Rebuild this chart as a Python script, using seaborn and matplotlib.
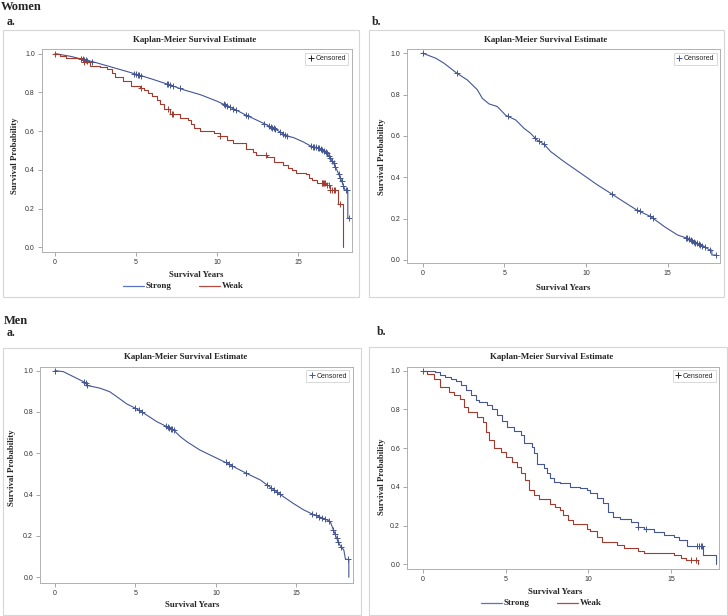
import numpy as np
import pandas as pd
import matplotlib
matplotlib.use("Agg")
import matplotlib.pyplot as plt
from matplotlib.patches import Rectangle
from matplotlib.lines import Line2D
import seaborn as sns

# ---- data ----
# Women a. (Strong / Weak)
wa_strong_t = [0, 1.0, 1.75, 2.37, 3.5, 5.04, 6.0, 7.1, 7.9, 9.0, 10.0, 11.0, 11.8, 12.9, 13.7,
               14.3, 14.7, 15.3, 15.8, 16.4, 16.8, 17.2, 17.5, 17.7, 17.9, 18.07, 18.07, 18.15]
wa_strong_s = [1.0, 0.985, 0.969, 0.957, 0.93, 0.893, 0.868, 0.838, 0.814, 0.787, 0.754, 0.716, 0.682,
               0.639, 0.605, 0.574, 0.567, 0.545, 0.522, 0.51, 0.485, 0.433, 0.38, 0.34, 0.295, 0.295,
               0.15, 0.15]
wa_strong_cens = [1.6, 1.7, 1.8, 1.9, 2.0, 2.3, 4.9, 5.0, 5.1, 5.2, 5.3, 6.9, 7.0, 7.1, 7.3, 7.7,
                  10.4, 10.5, 10.6, 10.8, 11.0, 11.2, 11.8, 11.9, 12.9, 13.2, 13.3, 13.4, 13.5, 13.6,
                  13.9, 14.1, 14.2, 14.3, 15.8, 15.9, 16.0, 16.1, 16.2, 16.3, 16.4, 16.5, 16.6, 16.7,
                  16.8, 16.9, 17.0, 17.1, 17.2, 17.3, 17.5, 17.6, 17.7, 17.8, 17.95, 18.05, 18.15]
wa_weak_t = [0, 0.3, 0.7, 1.75, 2.15, 2.8, 3.2, 3.5, 3.7, 4.2, 4.7, 5.25, 5.5, 5.76, 6.0, 6.28, 6.5,
             6.7, 7.1, 7.7, 8.2, 8.4, 8.6, 8.95, 9.8, 10.2, 10.6, 11.0, 11.8, 12.2, 12.4, 13.1, 13.5,
             14.1, 14.4, 14.6, 14.9, 15.5, 15.7, 15.85, 16.15, 16.7, 16.95, 17.45, 17.8]
wa_weak_s = [1.0, 0.99, 0.979, 0.957, 0.935, 0.93, 0.921, 0.9, 0.88, 0.857, 0.833, 0.82, 0.81, 0.794,
             0.78, 0.76, 0.74, 0.716, 0.69, 0.67, 0.656, 0.635, 0.615, 0.6, 0.59, 0.574, 0.553, 0.536,
             0.507, 0.49, 0.476, 0.464, 0.44, 0.423, 0.41, 0.397, 0.383, 0.377, 0.36, 0.35, 0.33,
             0.32, 0.295, 0.224, 0.0]
wa_weak_cens = [0.0, 1.8, 5.3, 7.0, 7.2, 7.3, 10.2, 13.0, 16.45, 16.5, 16.55, 16.6, 16.65, 16.8,
                16.9, 17.0, 17.1, 17.2, 17.3, 17.6]

# Women b. (single group)
wb_t = [0, 0.8, 1.3, 2.1, 2.73, 3.35, 3.65, 4.06, 4.57, 5.08, 5.7, 6.2, 6.6, 7.0, 7.43, 7.84, 8.65,
        9.67, 10.7, 11.5, 12.3, 13.1, 13.96, 14.8, 15.6, 16.2, 16.8, 17.2, 17.6, 17.7, 17.7, 17.95]
wb_s = [1.0, 0.976, 0.952, 0.903, 0.871, 0.823, 0.782, 0.755, 0.742, 0.70, 0.677, 0.637, 0.613, 0.58,
        0.56, 0.524, 0.476, 0.42, 0.363, 0.323, 0.282, 0.242, 0.21, 0.161, 0.121, 0.105, 0.08, 0.065,
        0.048, 0.048, 0.024, 0.024]
wb_cens = [0.0, 2.1, 5.2, 6.9, 7.1, 7.4, 11.6, 13.1, 13.3, 13.9, 14.1, 16.1, 16.2, 16.3, 16.4, 16.5,
           16.6, 16.7, 16.8, 16.9, 17.0, 17.1, 17.3, 17.6, 17.95]

# Men a. (single group)
ma_t = [0, 0.52, 1.14, 1.76, 2.07, 2.8, 3.4, 3.84, 4.46, 5.08, 5.7, 6.33, 6.95, 7.37, 7.78, 8.2, 9.0,
        9.85, 10.7, 11.3, 11.9, 12.76, 13.6, 14.2, 14.8, 15.46, 16.1, 16.7, 17.1, 17.3, 17.5, 17.7,
        17.95, 18.05, 18.26, 18.26]
ma_s = [1.0, 0.995, 0.971, 0.947, 0.927, 0.915, 0.898, 0.874, 0.839, 0.815, 0.785, 0.753, 0.729,
        0.713, 0.681, 0.656, 0.616, 0.584, 0.552, 0.527, 0.503, 0.471, 0.423, 0.39, 0.358, 0.326,
        0.302, 0.285, 0.27, 0.229, 0.19, 0.156, 0.132, 0.087, 0.087, 0.0]
ma_cens = [0.0, 1.8, 1.9, 2.0, 5.0, 5.2, 5.4, 6.9, 7.0, 7.1, 7.2, 7.3, 7.4, 10.6, 10.8, 11.0, 11.9,
           13.2, 13.4, 13.6, 13.8, 14.0, 16.0, 16.2, 16.4, 16.6, 16.8, 17.0, 17.3, 17.4, 17.5, 17.6,
           17.8, 18.2]

# Men b. (Strong / Weak)
mb_strong_t = [0, 0.7, 1.0, 1.3, 1.7, 2.0, 2.3, 2.6, 2.9, 3.2, 3.4, 3.9, 4.2, 4.5, 4.8, 5.1, 5.5, 5.9,
               6.1, 6.6, 6.7, 6.9, 7.3, 7.5, 7.7, 7.9, 8.3, 8.9, 9.5, 9.9, 10.1, 10.5, 10.9, 11.2, 11.5,
               11.9, 12.6, 13.0, 13.4, 14.0, 14.6, 15.2, 15.5, 16.0, 16.96, 17.73]
mb_strong_s = [1.0, 0.993, 0.979, 0.966, 0.955, 0.945, 0.926, 0.9, 0.876, 0.85, 0.837, 0.823, 0.8,
               0.771, 0.742, 0.711, 0.69, 0.668, 0.625, 0.605, 0.573, 0.52, 0.496, 0.47, 0.444, 0.427,
               0.418, 0.4, 0.392, 0.384, 0.367, 0.341, 0.315, 0.272, 0.243, 0.234, 0.22, 0.195, 0.181,
               0.165, 0.151, 0.143, 0.126, 0.093, 0.048, 0.0]
mb_strong_cens = [13.0, 13.5, 16.6, 16.7, 16.8, 16.9]
mb_weak_t = [0, 0.25, 0.65, 1.05, 1.55, 1.85, 2.25, 2.45, 2.75, 3.25, 3.6, 3.8, 4.0, 4.3, 4.7, 5.0,
             5.4, 5.7, 5.9, 6.2, 6.4, 6.7, 7.0, 7.7, 8.0, 8.3, 8.5, 8.8, 9.1, 9.9, 10.1, 10.5, 10.8,
             11.75, 12.15, 13.0, 13.4, 15.2, 15.6, 15.9, 16.65]
mb_weak_s = [1.0, 0.983, 0.96, 0.917, 0.891, 0.874, 0.852, 0.814, 0.785, 0.759, 0.737, 0.685, 0.642,
             0.599, 0.582, 0.556, 0.527, 0.504, 0.47, 0.435, 0.384, 0.358, 0.337, 0.312, 0.294, 0.28,
             0.255, 0.229, 0.207, 0.181, 0.172, 0.14, 0.117, 0.1, 0.083, 0.071, 0.06, 0.048, 0.034,
             0.022, 0.0]
mb_weak_cens = [0.0, 16.2, 16.5]

x_ticks = [0, 5, 10, 15]
y_ticks = [0.0, 0.2, 0.4, 0.6, 0.8, 1.0]

BLUE = "#445694"
RED = "#A23A2E"
W, H = 728, 616
SERIF = ["Liberation Serif", "DejaVu Serif"]

sns.set_style("white")
plt.rcParams["font.family"] = ["Liberation Sans", "DejaVu Sans"]

fig = plt.figure(figsize=(7.28, 6.16), dpi=100)


def px_rect(x0, y0, x1, y1):
    return [x0 / W, 1 - y1 / H, (x1 - x0) / W, (y1 - y0) / H]


def ftext(x, y, s, **kw):
    fig.text(x / W, 1 - y / H, s, **kw)


def draw_curve(ax, t, s, cens, color, step):
    df = pd.DataFrame({"t": t, "s": s})
    sns.lineplot(data=df, x="t", y="s", ax=ax, color=color, lw=0.8, estimator=None,
                 sort=False, drawstyle="steps-post" if step else "default")
    t_arr, s_arr = np.asarray(t), np.asarray(s)
    if step:
        cy = s_arr[np.searchsorted(t_arr, cens, side="right") - 1]
    else:
        cy = np.interp(cens, t_arr, s_arr)
    sns.scatterplot(x=cens, y=cy, ax=ax, marker="+", color=color, s=13, linewidth=0.7)


def make_panel(box, xlim, ylim, curves, cens_color):
    ax = fig.add_axes(px_rect(*box))
    for t, s, c, col, step in curves:
        draw_curve(ax, t, s, c, col, step)
    ax.set_xlim(*xlim)
    ax.set_ylim(*ylim)
    ax.set_xticks(x_ticks)
    ax.set_yticks(y_ticks)
    ax.set_yticklabels([f"{v:.1f}" for v in y_ticks])
    ax.set_xlabel("")
    ax.set_ylabel("")
    ax.tick_params(labelsize=5, labelcolor="#333333", color="#999999", length=3,
                   width=0.6, pad=2, left=True, bottom=True)
    for sp in ax.spines.values():
        sp.set_color("#b0b0b0")
        sp.set_linewidth(0.7)
    h = [Line2D([], [], marker="+", ls="", color=cens_color, markersize=4, mew=0.7)]
    leg = ax.legend(h, ["Censored"], loc="upper right", fontsize=5, frameon=True,
                    fancybox=False, borderpad=0.35, handletextpad=0.1, handlelength=1.0,
                    borderaxespad=0.5)
    leg.get_frame().set_edgecolor("#c8c8c8")
    leg.get_frame().set_linewidth(0.6)
    return ax


# outer panel boxes
for x0, y0, x1, y1 in [(3, 30, 359, 297), (369, 30, 724, 297), (3, 348, 361, 615), (369, 347, 727, 615)]:
    fig.add_artist(Rectangle((x0 / W, 1 - y1 / H), (x1 - x0) / W, (y1 - y0) / H,
                             transform=fig.transFigure, fill=False, ec="#d6d6d6", lw=0.8))

make_panel((41.7, 49.3, 351.7, 252), (-0.82, 18.31), (-0.024, 1.022),
           [(wa_strong_t, wa_strong_s, wa_strong_cens, BLUE, False),
            (wa_weak_t, wa_weak_s, wa_weak_cens, RED, True)], "#222222")
make_panel((407.3, 49.3, 720, 263.3), (-0.94, 18.2), (-0.016, 1.019),
           [(wb_t, wb_s, wb_cens, BLUE, False)], BLUE)
make_panel((40, 366.7, 352.7, 582.7), (-0.93, 18.5), (-0.026, 1.019),
           [(ma_t, ma_s, ma_cens, BLUE, False)], BLUE)
make_panel((407, 366.7, 719, 569.3), (-0.97, 17.91), (-0.026, 1.021),
           [(mb_strong_t, mb_strong_s, mb_strong_cens, BLUE, True),
            (mb_weak_t, mb_weak_s, mb_weak_cens, RED, True)], "#222222")

# headings
head = dict(family=SERIF, weight="bold", va="baseline", ha="left")
ftext(1, 10.5, "Women", fontsize=9, **head)
ftext(7, 25, "a.", fontsize=8.5, **head)
ftext(372, 25, "b.", fontsize=8.5, **head)
ftext(4, 323.5, "Men", fontsize=9, **head)
ftext(7, 336, "a.", fontsize=8.5, **head)
ftext(377, 335, "b.", fontsize=8.5, **head)

bold = dict(family=SERIF, weight="bold", va="center")
for cx, cy in [(195, 40), (546, 40), (186, 357), (552, 357)]:
    ftext(cx, cy, "Kaplan-Meier Survival Estimate", fontsize=6.4, ha="center", **bold)
for cx, cy in [(196, 275), (563, 288), (192, 605), (555, 592)]:
    ftext(cx, cy, "Survival Years", fontsize=6.3, ha="center", **bold)
for cx, cy in [(15, 156), (382, 157), (12, 468), (382, 477)]:
    ftext(cx, cy, "Survival Probability", fontsize=6.3, ha="center", rotation=90, **bold)

# group legends
for lx, ly in [(123, 286), (481, 603)]:
    for dx, lab, col in [(0, "Strong", "#5b74c0"), (76, "Weak", "#b34a40")]:
        fig.add_artist(Line2D([(lx + dx) / W, (lx + dx + 21) / W], [1 - ly / H, 1 - ly / H],
                              transform=fig.transFigure, color=col, lw=0.9))
        ftext(lx + dx + 23, ly, lab, fontsize=6.5, ha="left", **bold)

fig.savefig("out.png", dpi=100)
